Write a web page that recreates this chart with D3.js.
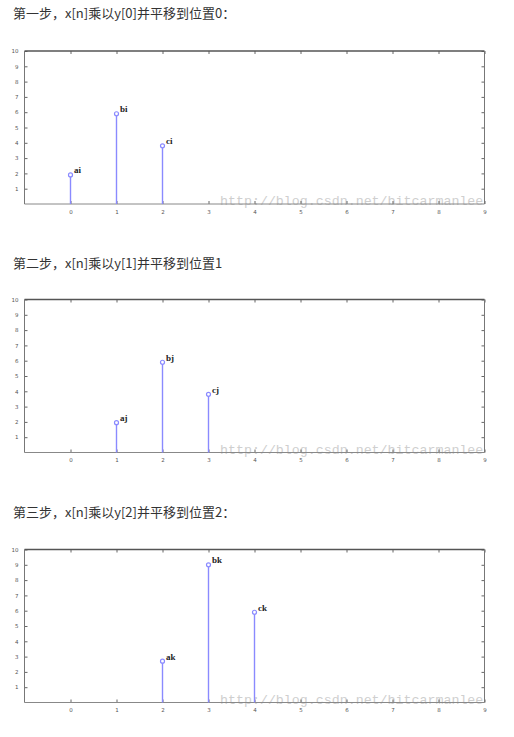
<!DOCTYPE html>
<html><head><meta charset="utf-8">
<script src="https://cdn.jsdelivr.net/npm/d3@7"></script>
<style>
body{margin:0;background:#fff;}
svg{display:block;}
</style></head>
<body>
<script>
const titles = ["第一步，x[n]乘以y[0]并平移到位置0：", "第二步，x[n]乘以y[1]并平移到位置1", "第三步，x[n]乘以y[2]并平移到位置2："];
const xTicks = [0,1,2,3,4,5,6,7,8,9];
const yTicks = [1,2,3,4,5,6,7,8,9,10];
const watermark = "http://blog.csdn.net/bitcarmanlee";

const pos1 = [0,1,2], val1 = [1.9,5.9,3.8], lab1 = ["ai","bi","ci"];
const pos2 = [1,2,3], val2 = [1.95,5.9,3.8], lab2 = ["aj","bj","cj"];
const pos3 = [2,3,4], val3 = [2.7,9.0,5.9], lab3 = ["ak","bk","ck"];

const panels = [
  {title: titles[0], pos: pos1, val: val1, lab: lab1, titleY: 17.5, top: 51},
  {title: titles[1], pos: pos2, val: val2, lab: lab2, titleY: 267.5, top: 299.5},
  {title: titles[2], pos: pos3, val: val3, lab: lab3, titleY: 516.5, top: 549.5}
];

const W = 514, H = 737;
const svg = d3.select("body").append("svg").attr("width", W).attr("height", H);

const x = d3.scaleLinear().domain([-1, 9]).range([24.5, 484.5]);
const plotH = 153;
const stemColor = "#8a8aff";

panels.forEach(p => {
  svg.append("text").attr("x", 13).attr("y", p.titleY)
    .attr("font-family", "'Noto Sans CJK SC', 'Noto Sans', sans-serif")
    .attr("font-size", 13).attr("fill", "#333").text(p.title);

  const g = svg.append("g").attr("transform", `translate(0,${p.top})`);
  const y = d3.scaleLinear().domain([0, 10]).range([plotH, 0]);

  // watermark (behind)
  g.append("text").attr("x", 220).attr("y", plotH + 1)
    .attr("font-family", "'Liberation Mono', 'DejaVu Sans Mono', monospace")
    .attr("font-size", 13.3).attr("fill", "#cfcfcf").text(watermark);

  // axes
  const axStyle = sel => {
    sel.attr("color", "#555");
    sel.select(".domain").remove();
    sel.selectAll("line").attr("stroke", "#666");
    sel.selectAll("text").attr("fill", "#555").attr("font-size", 5.5)
      .attr("font-family", "'DejaVu Sans', sans-serif");
  };
  g.append("g").attr("transform", `translate(0,${plotH})`)
    .call(d3.axisBottom(x).tickValues(xTicks).tickSize(-3).tickPadding(6).tickFormat(d3.format("d")))
    .call(axStyle);
  g.append("g")
    .call(d3.axisTop(x).tickValues(xTicks).tickSize(-3).tickFormat(""))
    .call(axStyle);
  g.append("g").attr("transform", `translate(${x.range()[0]},0)`)
    .call(d3.axisLeft(y).tickValues(yTicks).tickSize(-3).tickPadding(6).tickFormat(d3.format("d")))
    .call(axStyle);
  g.append("g").attr("transform", `translate(${x.range()[1]},0)`)
    .call(d3.axisRight(y).tickValues(yTicks).tickSize(-3).tickFormat(""))
    .call(axStyle);

  // frame
  const [x0, x1] = x.range();
  g.append("line").attr("x1", x0).attr("x2", x1).attr("y1", 0).attr("y2", 0).attr("stroke", "#555").attr("stroke-width", 1.5);
  g.append("line").attr("x1", x0).attr("x2", x1).attr("y1", plotH).attr("y2", plotH).attr("stroke", "#888").attr("stroke-width", 1);
  g.append("line").attr("x1", x0).attr("x2", x0).attr("y1", 0).attr("y2", plotH).attr("stroke", "#777").attr("stroke-width", 1);
  g.append("line").attr("x1", x1).attr("x2", x1).attr("y1", 0).attr("y2", plotH).attr("stroke", "#777").attr("stroke-width", 1);

  // stems
  const data = p.pos.map((d, i) => ({x: d, v: p.val[i], l: p.lab[i]}));
  g.selectAll(".stem").data(data).enter().append("line")
    .attr("x1", d => x(d.x)).attr("x2", d => x(d.x))
    .attr("y1", y(0)).attr("y2", d => y(d.v))
    .attr("stroke", stemColor).attr("stroke-width", 1.4);
  g.selectAll(".mk").data(data).enter().append("circle")
    .attr("cx", d => x(d.x)).attr("cy", d => y(d.v)).attr("r", 2)
    .attr("fill", "#fff").attr("stroke", stemColor).attr("stroke-width", 1.2);
  g.selectAll(".lb").data(data).enter().append("text")
    .attr("x", d => x(d.x) + 3.5).attr("y", d => y(d.v) - 1.5)
    .attr("font-family", "'Liberation Serif', serif").attr("font-weight", "bold")
    .attr("font-size", 9).attr("fill", "#222").text(d => d.l);
});
</script>
</body></html>
